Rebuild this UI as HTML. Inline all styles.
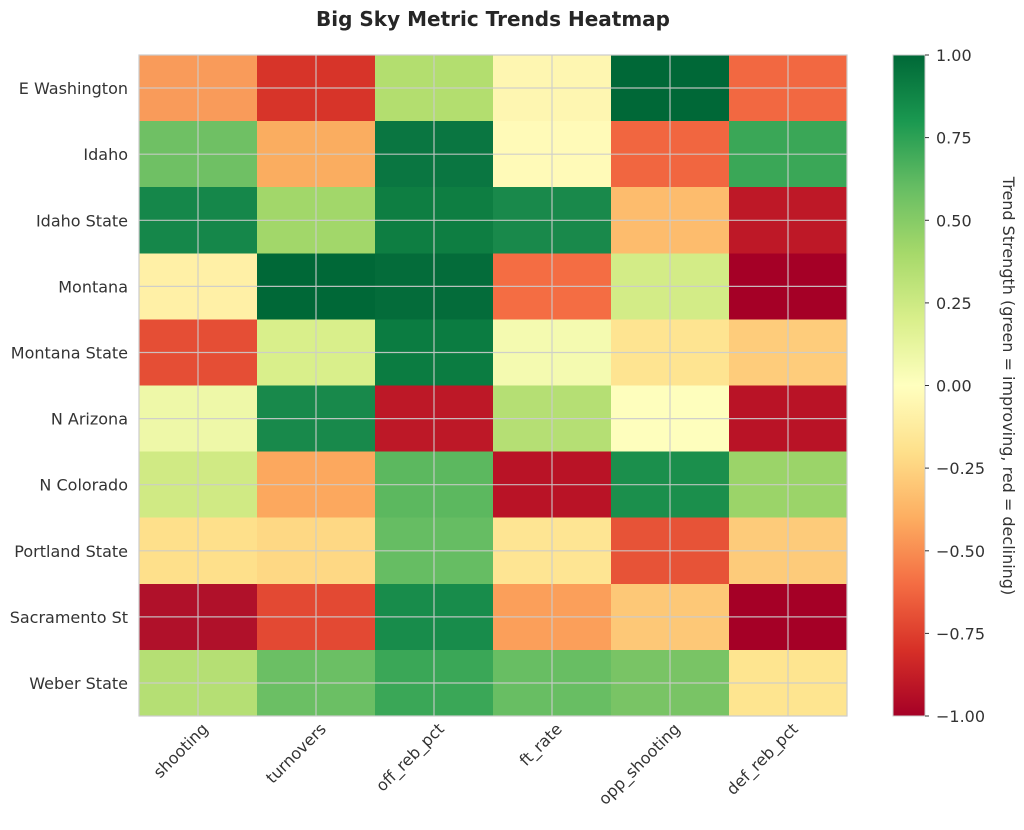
<!DOCTYPE html>
<html><head><meta charset="utf-8"><style>html,body{margin:0;padding:0;background:#fff}</style></head>
<body>
<svg width="1024" height="825" xmlns="http://www.w3.org/2000/svg" font-family="DejaVu Sans, Liberation Sans, sans-serif">
<defs>
<linearGradient id="cb" x1="0" y1="1" x2="0" y2="0">
<stop offset="0" stop-color="#a50026"/><stop offset="0.1" stop-color="#d73027"/><stop offset="0.2" stop-color="#f46d43"/><stop offset="0.3" stop-color="#fdae61"/><stop offset="0.4" stop-color="#fee08b"/><stop offset="0.5" stop-color="#ffffbf"/><stop offset="0.6" stop-color="#d9ef8b"/><stop offset="0.7" stop-color="#a6d96a"/><stop offset="0.8" stop-color="#66bd63"/><stop offset="0.9" stop-color="#1a9850"/><stop offset="1" stop-color="#006837"/>
</linearGradient>
</defs>
<text x="493" y="26" text-anchor="middle" font-size="20" font-weight="bold" fill="#262626">Big Sky Metric Trends Heatmap</text>
<g shape-rendering="crispEdges">
<rect x="139" y="55" width="118.5" height="66.6" fill="#f99b5a"/><rect x="257" y="55" width="118.5" height="66.6" fill="#d73429"/><rect x="375" y="55" width="118.5" height="66.6" fill="#b3de6f"/><rect x="493" y="55" width="118.5" height="66.6" fill="#fef6b1"/><rect x="611" y="55" width="118.5" height="66.6" fill="#006837"/><rect x="729" y="55" width="118" height="66.6" fill="#f26841"/>
<rect x="139" y="121.1" width="118.5" height="66.6" fill="#6fc064"/><rect x="257" y="121.1" width="118.5" height="66.6" fill="#faad60"/><rect x="375" y="121.1" width="118.5" height="66.6" fill="#0a7641"/><rect x="493" y="121.1" width="118.5" height="66.6" fill="#fffab8"/><rect x="611" y="121.1" width="118.5" height="66.6" fill="#f16640"/><rect x="729" y="121.1" width="118" height="66.6" fill="#3aa757"/>
<rect x="139" y="187.2" width="118.5" height="66.6" fill="#15874a"/><rect x="257" y="187.2" width="118.5" height="66.6" fill="#a2d76a"/><rect x="375" y="187.2" width="118.5" height="66.6" fill="#0e7e42"/><rect x="493" y="187.2" width="118.5" height="66.6" fill="#19894b"/><rect x="611" y="187.2" width="118.5" height="66.6" fill="#fdbc6d"/><rect x="729" y="187.2" width="118" height="66.6" fill="#be1827"/>
<rect x="139" y="253.3" width="118.5" height="66.6" fill="#fff0a6"/><rect x="257" y="253.3" width="118.5" height="66.6" fill="#006837"/><rect x="375" y="253.3" width="118.5" height="66.6" fill="#046c3a"/><rect x="493" y="253.3" width="118.5" height="66.6" fill="#f46d43"/><rect x="611" y="253.3" width="118.5" height="66.6" fill="#d3ec87"/><rect x="729" y="253.3" width="118" height="66.6" fill="#a50026"/>
<rect x="139" y="319.4" width="118.5" height="66.6" fill="#e54e35"/><rect x="257" y="319.4" width="118.5" height="66.6" fill="#d9ef8b"/><rect x="375" y="319.4" width="118.5" height="66.6" fill="#0b7c41"/><rect x="493" y="319.4" width="118.5" height="66.6" fill="#f4fab0"/><rect x="611" y="319.4" width="118.5" height="66.6" fill="#fee491"/><rect x="729" y="319.4" width="118" height="66.6" fill="#fecc7b"/>
<rect x="139" y="385.5" width="118.5" height="66.6" fill="#eef8a8"/><rect x="257" y="385.5" width="118.5" height="66.6" fill="#18894b"/><rect x="375" y="385.5" width="118.5" height="66.6" fill="#bd1827"/><rect x="493" y="385.5" width="118.5" height="66.6" fill="#b5df74"/><rect x="611" y="385.5" width="118.5" height="66.6" fill="#fefebd"/><rect x="729" y="385.5" width="118" height="66.6" fill="#b91326"/>
<rect x="139" y="451.6" width="118.5" height="66.6" fill="#d0ea84"/><rect x="257" y="451.6" width="118.5" height="66.6" fill="#fca85e"/><rect x="375" y="451.6" width="118.5" height="66.6" fill="#5cb85f"/><rect x="493" y="451.6" width="118.5" height="66.6" fill="#b91326"/><rect x="611" y="451.6" width="118.5" height="66.6" fill="#1b8f4c"/><rect x="729" y="451.6" width="118" height="66.6" fill="#9bd469"/>
<rect x="139" y="517.7" width="118.5" height="66.6" fill="#fee08b"/><rect x="257" y="517.7" width="118.5" height="66.6" fill="#fed884"/><rect x="375" y="517.7" width="118.5" height="66.6" fill="#66bd63"/><rect x="493" y="517.7" width="118.5" height="66.6" fill="#fee593"/><rect x="611" y="517.7" width="118.5" height="66.6" fill="#e75337"/><rect x="729" y="517.7" width="118" height="66.6" fill="#fdcb7a"/>
<rect x="139" y="583.8" width="118.5" height="66.6" fill="#b0112a"/><rect x="257" y="583.8" width="118.5" height="66.6" fill="#e34933"/><rect x="375" y="583.8" width="118.5" height="66.6" fill="#188c4b"/><rect x="493" y="583.8" width="118.5" height="66.6" fill="#fb9f5a"/><rect x="611" y="583.8" width="118.5" height="66.6" fill="#fdc877"/><rect x="729" y="583.8" width="118" height="66.6" fill="#a50026"/>
<rect x="139" y="649.9" width="118.5" height="66.1" fill="#b5df74"/><rect x="257" y="649.9" width="118.5" height="66.1" fill="#6bbf64"/><rect x="375" y="649.9" width="118.5" height="66.1" fill="#3aa757"/><rect x="493" y="649.9" width="118.5" height="66.1" fill="#68be63"/><rect x="611" y="649.9" width="118.5" height="66.1" fill="#79c465"/><rect x="729" y="649.9" width="118" height="66.1" fill="#fee590"/>
</g>
<g stroke="#cccccc" stroke-width="1.2" opacity="0.9">
<line x1="198" y1="55" x2="198" y2="716"/><line x1="316" y1="55" x2="316" y2="716"/><line x1="434" y1="55" x2="434" y2="716"/><line x1="552" y1="55" x2="552" y2="716"/><line x1="670" y1="55" x2="670" y2="716"/><line x1="788" y1="55" x2="788" y2="716"/>
<line x1="139" y1="88" x2="847" y2="88"/><line x1="139" y1="154.2" x2="847" y2="154.2"/><line x1="139" y1="220.3" x2="847" y2="220.3"/><line x1="139" y1="286.4" x2="847" y2="286.4"/><line x1="139" y1="352.5" x2="847" y2="352.5"/><line x1="139" y1="418.6" x2="847" y2="418.6"/><line x1="139" y1="484.7" x2="847" y2="484.7"/><line x1="139" y1="550.8" x2="847" y2="550.8"/><line x1="139" y1="616.9" x2="847" y2="616.9"/><line x1="139" y1="683" x2="847" y2="683"/>
</g>
<rect x="139" y="55" width="708" height="661" fill="none" stroke="#cccccc" stroke-width="1.2"/>
<g font-size="16" fill="#333" text-anchor="end">
<text x="128" y="94">E Washington</text><text x="128" y="160.2">Idaho</text><text x="128" y="226.3">Idaho State</text><text x="128" y="292.4">Montana</text><text x="128" y="358.5">Montana State</text><text x="128" y="424.6">N Arizona</text><text x="128" y="490.7">N Colorado</text><text x="128" y="556.8">Portland State</text><text x="128" y="622.9">Sacramento St</text><text x="128" y="689">Weber State</text>
<text transform="translate(209,730) rotate(-45)">shooting</text><text transform="translate(327,730) rotate(-45)">turnovers</text><text transform="translate(445,730) rotate(-45)">off_reb_pct</text><text transform="translate(563,730) rotate(-45)">ft_rate</text><text transform="translate(681,730) rotate(-45)">opp_shooting</text><text transform="translate(799,730) rotate(-45)">def_reb_pct</text>
</g>
<rect x="893" y="55" width="32" height="661" fill="url(#cb)" stroke="#ccc" stroke-width="1"/>
<g stroke="#333" stroke-width="1">
<line x1="925" y1="55" x2="929" y2="55"/><line x1="925" y1="137.6" x2="929" y2="137.6"/><line x1="925" y1="220.3" x2="929" y2="220.3"/><line x1="925" y1="302.9" x2="929" y2="302.9"/><line x1="925" y1="385.5" x2="929" y2="385.5"/><line x1="925" y1="468.1" x2="929" y2="468.1"/><line x1="925" y1="550.8" x2="929" y2="550.8"/><line x1="925" y1="633.4" x2="929" y2="633.4"/><line x1="925" y1="716" x2="929" y2="716"/>
</g>
<g font-size="16" fill="#333">
<text x="936" y="61">1.00</text><text x="936" y="143.6">0.75</text><text x="936" y="226.3">0.50</text><text x="936" y="308.9">0.25</text><text x="936" y="391.5">0.00</text><text x="936" y="474.1">−0.25</text><text x="936" y="556.8">−0.50</text><text x="936" y="639.4">−0.75</text><text x="936" y="722">−1.00</text>
</g>
<text transform="translate(1003,386) rotate(90)" text-anchor="middle" font-size="16" fill="#333">Trend Strength (green = improving, red = declining)</text>
</svg>
</body></html>
